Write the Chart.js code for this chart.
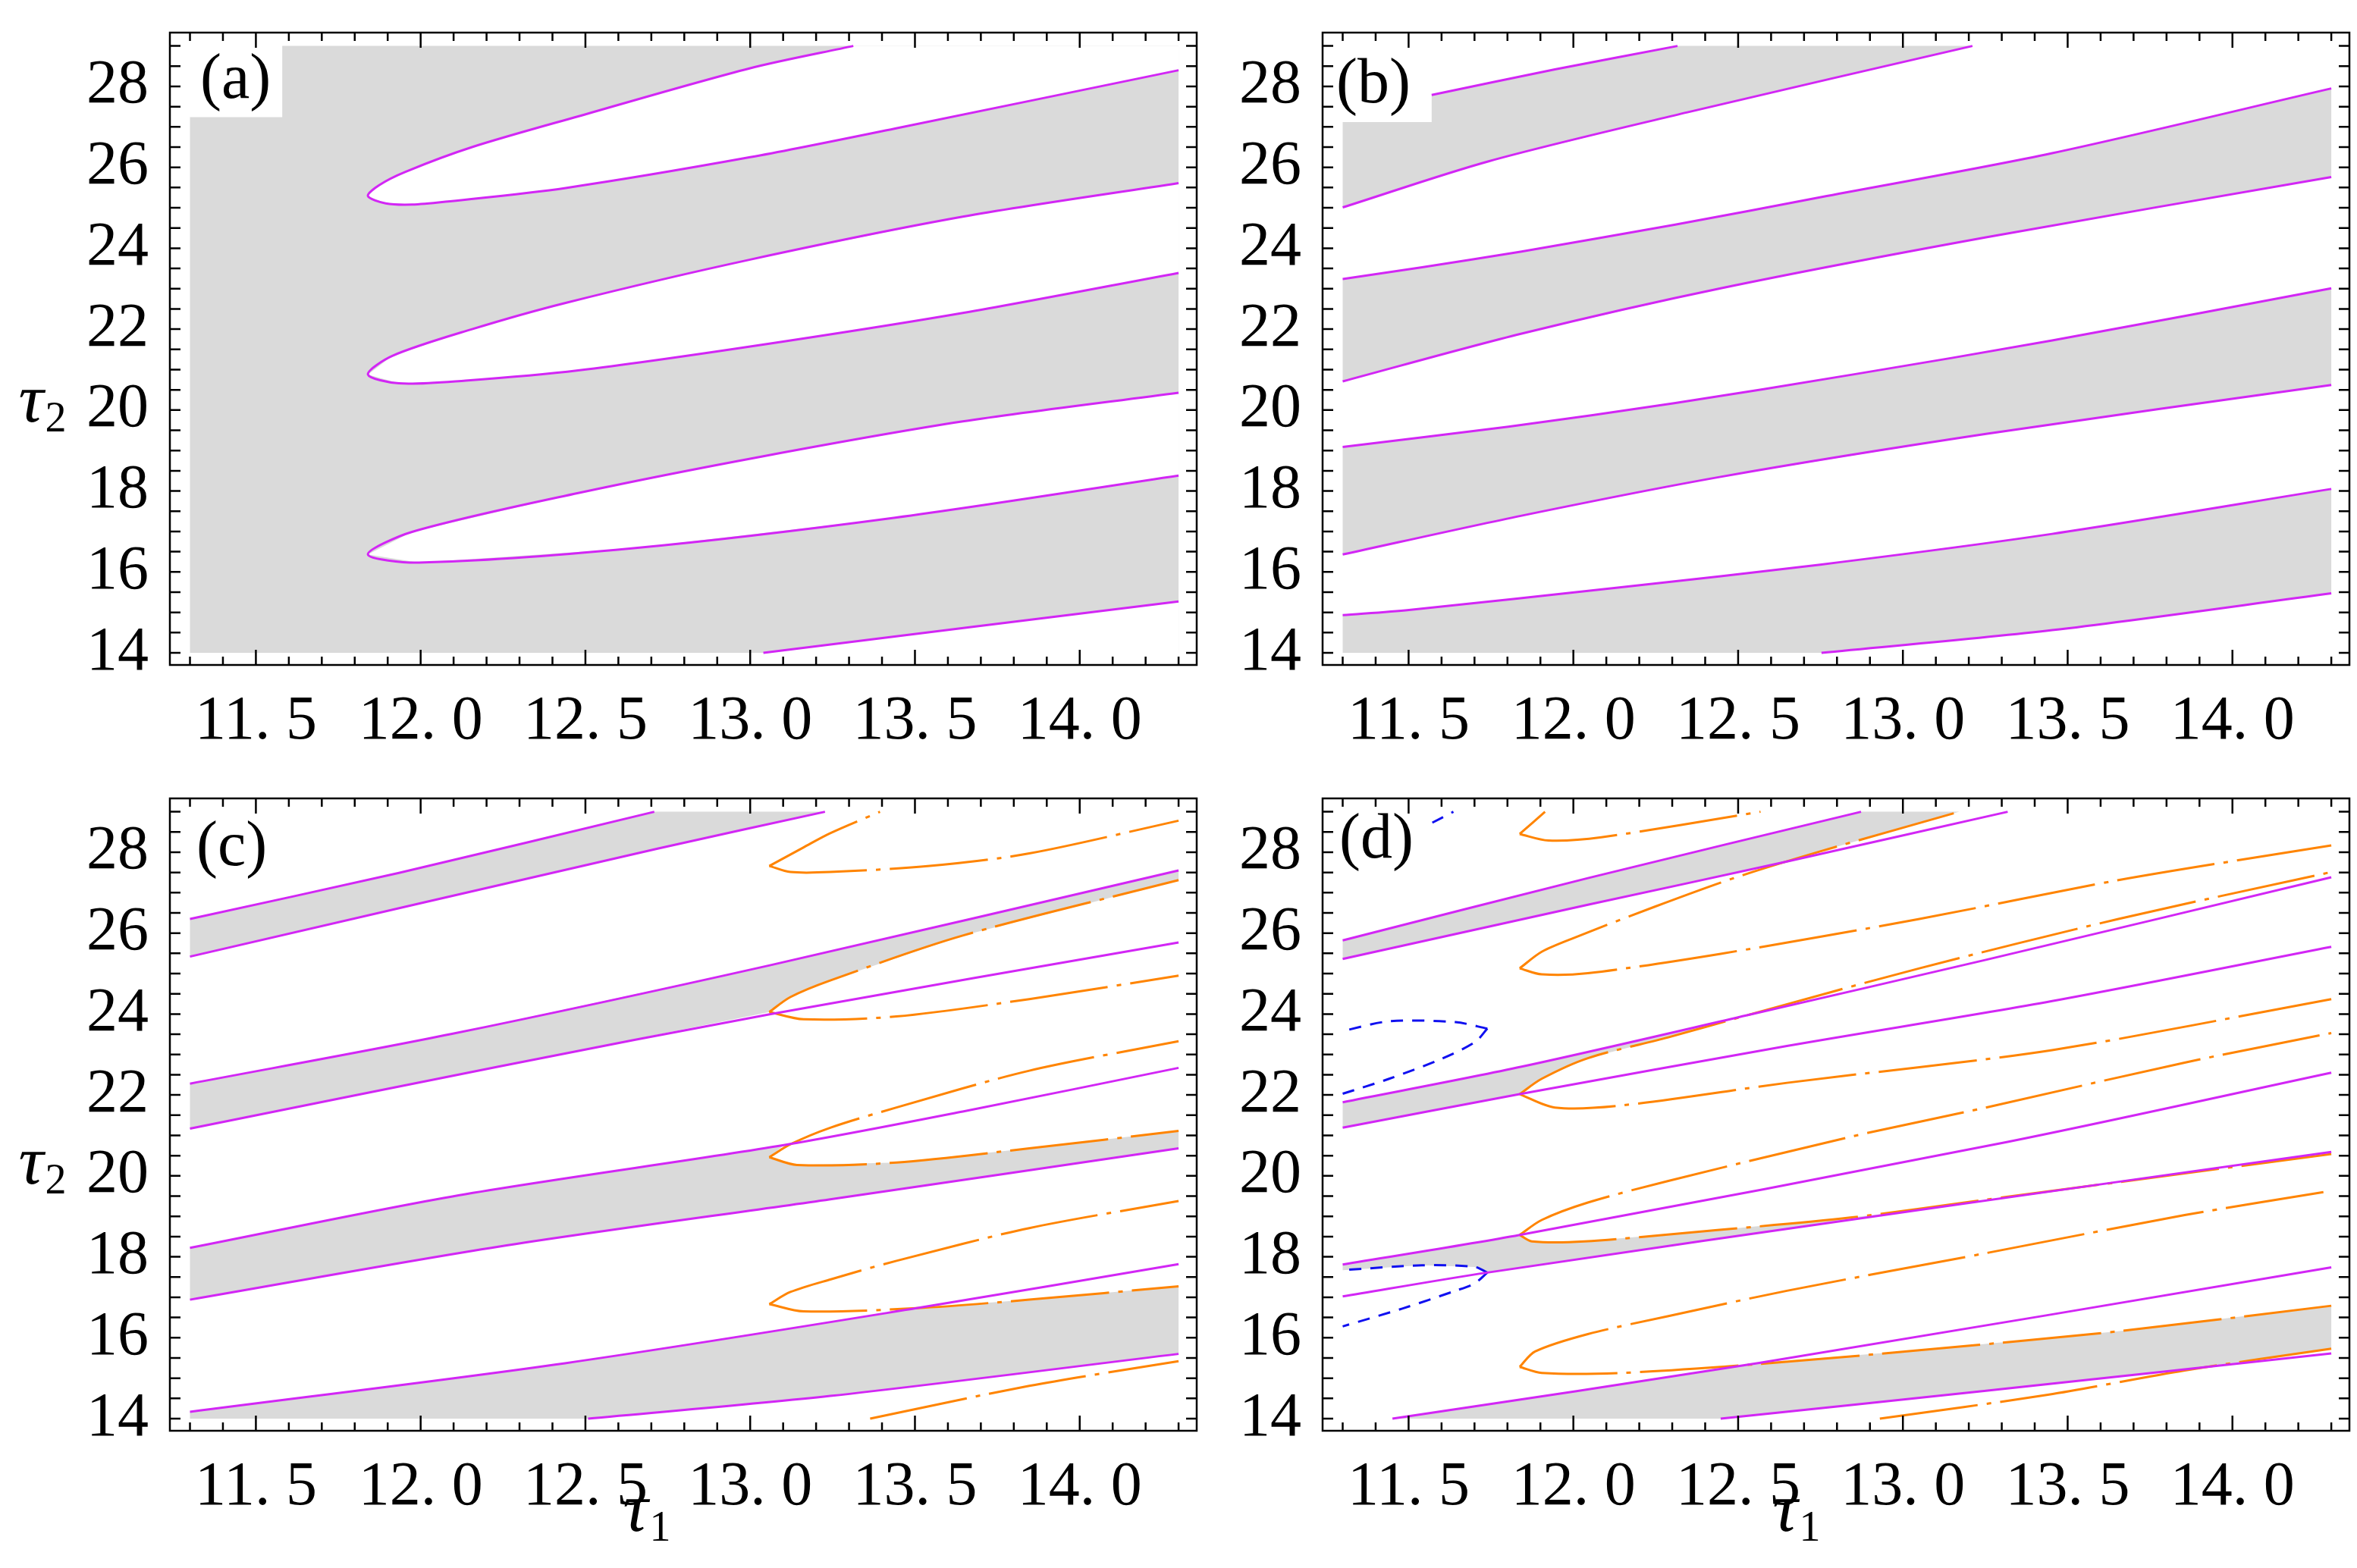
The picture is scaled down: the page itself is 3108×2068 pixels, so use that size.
<!DOCTYPE html>
<html>
<head>
<meta charset="utf-8">
<script src="https://cdn.jsdelivr.net/npm/chart.js@4/dist/chart.umd.min.js"></script>
<style>
  body { margin: 0; background: #fff; }
  #wrap { position: relative; width: 3108px; height: 2068px; }
  canvas { position: absolute; }
</style>
</head>
<body>
<div id="wrap">
  <canvas id="ca"></canvas>
  <canvas id="cb"></canvas>
  <canvas id="cc"></canvas>
  <canvas id="cd"></canvas>
</div>
<script>
// axis ticks (labels)
const xTickLabels = [11.5, 12.0, 12.5, 13.0, 13.5, 14.0]
const yTickLabels = [14, 16, 18, 20, 22, 24, 26, 28]

// ---- panel (a) ----
const aT1Vertex = [11.84, 25.29]
const aT1Upper = [[11.874,25.56],[11.954,25.89],[12.156,26.50],[12.478,27.26],[13.0,28.45],[13.313,29]]
const aT1Lower = [[11.894,25.11],[11.974,25.08],[12.075,25.15],[12.44,25.49],[13.0,26.25],[13.44,26.96],[14.3,28.40]]
const aT2Vertex = [11.84, 20.88]
const aT2Upper = [[11.914,21.34],[12.156,22.0],[12.44,22.65],[13.0,23.72],[13.645,24.78],[14.3,25.61]]
const aT2Lower = [[11.934,20.66],[12.136,20.73],[12.478,20.98],[13.0,21.57],[13.645,22.40],[14.3,23.39]]
const aT3Vertex = [11.84, 16.43]
const aT3Upper = [[11.974,16.99],[12.478,17.95],[13.04,18.86],[13.645,19.72],[14.3,20.43]]
const aT3Lower = [[11.995,16.23],[12.64,16.58],[13.44,17.34],[14.3,18.38]]
const aBottom = [[13.04,14.0],[14.3,15.27]]

// ---- panel (b) ----
const bL1 = [[11.57,27.79],[11.944,28.42],[12.316,29]]
const bL2 = [[11.3,25.01],[11.743,26.15],[12.346,27.36],[13.211,29]]
const bL3 = [[11.3,23.24],[11.541,23.53],[11.843,23.92],[12.306,24.58],[12.769,25.29],[13.453,26.35],[14.3,27.95]]
const bL4 = [[11.3,20.71],[11.843,21.89],[12.447,23.01],[13.252,24.27],[14.3,25.76]]
const bL5 = [[11.3,19.09],[11.803,19.59],[12.306,20.17],[12.849,20.88],[13.453,21.72],[14.3,23.01]]
const bL6 = [[11.3,16.43],[11.843,17.39],[12.447,18.35],[13.252,19.41],[14.3,20.62]]
const bL7 = [[11.3,14.93],[11.501,15.06],[12.145,15.62],[12.749,16.18],[13.453,16.94],[14.3,18.05]]
const bL8 = [[12.753,14.0],[13.453,14.56],[14.3,15.47]]

// ---- panel (c) ----
const cL1 = [[11.3,26.35],[11.934,27.49],[12.709,29]]
const cL2 = [[11.3,25.42],[12.719,28.09],[13.227,29]]
const cL3 = [[11.3,22.28],[12.095,23.51],[13.062,25.21],[14.3,27.55]]
const cL4 = [[11.3,21.17],[12.236,22.70],[13.062,24.0],[14.3,25.77]]
const cL5 = [[11.3,18.22],[12.115,19.52],[13.102,20.76],[13.645,21.59],[14.3,22.67]]
const cL6 = [[11.3,16.94],[12.236,18.25],[13.243,19.42],[14.3,20.68]]
const cL7 = [[11.3,14.17],[12.438,15.37],[13.505,16.73],[14.3,17.82]]
const cL8 = [[12.508,14.0],[13.243,14.56],[14.3,15.6]]
const cO1Vertex = [13.058,27.66]
const cO1Upper = [[13.162,28.12],[13.243,28.47],[13.394,29]]
const cO1Lower = [[13.122,27.51],[13.243,27.51],[13.545,27.66],[13.847,27.97],[14.3,28.78]]
const cO2Vertex = [13.058,24.05]
const cO2Upper = [[13.122,24.42],[13.243,24.83],[13.645,25.94],[14.3,27.31]]
const cO2Lower = [[13.162,23.87],[13.444,23.94],[13.847,24.37],[14.3,24.95]]
const cO3Vertex = [13.058,20.46]
const cO3Upper = [[13.122,20.78],[13.243,21.19],[13.444,21.69],[13.847,22.6],[14.3,23.33]]
const cO3Lower = [[13.142,20.27],[13.444,20.33],[13.847,20.68],[14.3,21.11]]
const cO4Vertex = [13.058,16.83]
const cO4Upper = [[13.122,17.13],[13.243,17.44],[13.444,17.9],[13.847,18.71],[14.3,19.38]]
const cO4Lower = [[13.162,16.65],[13.505,16.73],[13.847,16.94],[14.3,17.27]]
const cO5 = [[13.364,14.0],[13.847,14.81],[14.3,15.42]]

// ---- panel (d) ----
const dL1 = [[11.3,25.82],[12.044,27.36],[12.873,29]]
const dL2 = [[11.3,25.36],[12.044,26.70],[12.648,27.77],[13.318,29]]
const dL3 = [[11.3,21.82],[11.843,22.70],[12.527,23.97],[13.252,25.34],[14.3,27.38]]
const dL4 = [[11.3,21.19],[11.837,22.02],[12.648,23.21],[13.453,24.32],[14.3,25.66]]
const dL5 = [[11.3,17.81],[11.837,18.54],[13.318,20.84],[14.3,22.55]]
const dL6 = [[11.3,17.02],[11.739,17.61],[13.05,19.16],[14.3,20.59]]
const dL7 = [[11.451,14.0],[12.568,15.38],[14.3,17.74]]
const dL8 = [[12.447,14.0],[13.252,14.69],[14.3,15.61]]
const dO1Vertex = [11.837,28.45]
const dO1Upper = [[11.914,29]]
const dO1Lower = [[11.924,28.29],[12.085,28.37],[12.568,29]]
const dO2Vertex = [11.837,25.13]
const dO2Upper = [[11.904,25.54],[12.004,25.89],[12.246,26.65],[12.487,27.36],[12.749,28.02],[13.171,29]]
const dO2Lower = [[11.904,24.98],[12.044,25.01],[12.447,25.49],[13.05,26.35],[13.654,27.31],[14.3,28.17]]
const dO3Vertex = [11.837,22.02]
const dO3Upper = [[11.904,22.40],[12.044,22.91],[12.286,23.42],[12.527,23.97],[13.05,25.13],[13.654,26.35],[14.3,27.51]]
const dO3Lower = [[11.944,21.69],[12.145,21.74],[12.648,22.30],[13.453,23.11],[14.3,24.37]]
const dO4Vertex = [11.837,18.54]
const dO4Upper = [[11.904,18.91],[12.044,19.34],[12.286,19.87],[12.849,20.98],[13.252,21.69],[13.855,22.8],[14.3,23.53]]
const dO4Lower = [[11.874,18.38],[12.034,18.38],[12.437,18.66],[12.84,18.97],[13.25,19.41],[13.65,19.84],[14.3,20.54]]
const dO5Vertex = [11.837,15.28]
const dO5Upper = [[11.884,15.66],[12.044,16.09],[12.286,16.53],[12.648,17.16],[13.252,18.09],[13.855,19.03],[14.3,19.63]]
const dO5Lower = [[11.904,15.13],[12.145,15.13],[12.548,15.34],[13.05,15.69],[13.654,16.16],[14.3,16.79]]
const dO6 = [[12.93,14.0],[13.44,14.59],[13.855,15.19],[14.3,15.73]]
const dB1Vertex = [11.739,23.64]
const dB1Upper = [[11.642,23.8],[11.441,23.82],[11.3,23.58]]
const dB1Lower = [[11.702,23.31],[11.602,22.9],[11.441,22.4],[11.3,22.03]]
const dB2Vertex = [11.739,17.61]
const dB2Upper = [[11.70,17.75],[11.541,17.79],[11.3,17.67]]
const dB2Lower = [[11.70,17.34],[11.642,17.16],[11.481,16.72],[11.3,16.28]]
const dB3 = [[11.572,28.73],[11.636,29]]

const MAGENTA = '#d226f5'
const ORANGE = '#ff8400'
const BLUE = '#1010f0'
const GRAY = '#dadada'
const ORANGE_DASH = [130, 12, 6, 12]
const BLUE_DASH = [16, 12]

const rev = a => a.slice().reverse()
const pts = a => a.map(p => ({x: p[0], y: p[1]}))

function line(a, color, dash) {
    return { data: pts(a), showLine: true, borderColor: color, borderWidth: 3,
             pointRadius: 0, tension: 0.3, borderDash: dash || [], fill: false }
}
function poly(a, color) {
    return { data: pts(a), showLine: true, borderWidth: 0, borderColor: 'rgba(0,0,0,0)',
             pointRadius: 0, tension: 0, fill: 'shape', backgroundColor: color }
}
function tongue(v, up, lo) { return rev(up).concat([v], lo) }
// orange / blue tongues: each branch drawn outward from the vertex
function branches(v, up, lo, color, dash) {
    return [line([v].concat(up), color, dash), line([v].concat(lo), color, dash)]
}

// ---- datasets: lines first (drawn on top), fills last ----
const dsA = [
    line(tongue(aT1Vertex, aT1Upper, aT1Lower), MAGENTA),
    line(tongue(aT2Vertex, aT2Upper, aT2Lower), MAGENTA),
    line(tongue(aT3Vertex, aT3Upper, aT3Lower), MAGENTA),
    line(aBottom, MAGENTA),
    poly(tongue(aT1Vertex, aT1Upper, aT1Lower).concat([[14.3,29]]), '#fff'),
    poly(tongue(aT2Vertex, aT2Upper, aT2Lower), '#fff'),
    poly(tongue(aT3Vertex, aT3Upper, aT3Lower), '#fff'),
    poly(aBottom.concat([[14.3,14]]), '#fff'),
    poly([[11.3,14],[14.3,14],[14.3,29],[11.58,29],[11.58,27.24],[11.3,27.24]], GRAY),
]

const dsB = [
    line(bL1, MAGENTA), line(bL2, MAGENTA), line(bL3, MAGENTA), line(bL4, MAGENTA),
    line(bL5, MAGENTA), line(bL6, MAGENTA), line(bL7, MAGENTA), line(bL8, MAGENTA),
    poly([[11.3,27.12],[11.57,27.12]].concat(bL1, rev(bL2)), GRAY),
    poly(bL3.concat(rev(bL4)), GRAY),
    poly(bL5.concat(rev(bL6)), GRAY),
    poly(bL7.concat(rev(bL8), [[11.3,14]]), GRAY),
]

const dsC = [
    line(cL1, MAGENTA), line(cL2, MAGENTA), line(cL3, MAGENTA), line(cL4, MAGENTA),
    line(cL5, MAGENTA), line(cL6, MAGENTA), line(cL7, MAGENTA), line(cL8, MAGENTA),
    ...branches(cO1Vertex, cO1Upper, cO1Lower, ORANGE, ORANGE_DASH),
    ...branches(cO2Vertex, cO2Upper, cO2Lower, ORANGE, ORANGE_DASH),
    ...branches(cO3Vertex, cO3Upper, cO3Lower, ORANGE, ORANGE_DASH),
    ...branches(cO4Vertex, cO4Upper, cO4Lower, ORANGE, ORANGE_DASH),
    line(cO5, ORANGE, ORANGE_DASH),
    poly(cL1.concat(rev(cL2)), GRAY),
    poly(cL3.concat(rev(cO2Upper), [cO2Vertex], rev(cL4.slice(0, 2))), GRAY),
    poly(cL5.slice(0, 3).concat([cO3Vertex], cO3Lower, rev(cL6)), GRAY),
    poly([[11.3,14]].concat(cL7.slice(0, 3), cO4Lower.slice(2), rev(cL8)), GRAY),
]

const dsD = [
    line(dL1, MAGENTA), line(dL2, MAGENTA), line(dL3, MAGENTA), line(dL4, MAGENTA),
    line(dL5, MAGENTA), line(dL6, MAGENTA), line(dL7, MAGENTA), line(dL8, MAGENTA),
    ...branches(dO1Vertex, dO1Upper, dO1Lower, ORANGE, ORANGE_DASH),
    ...branches(dO2Vertex, dO2Upper, dO2Lower, ORANGE, ORANGE_DASH),
    ...branches(dO3Vertex, dO3Upper, dO3Lower, ORANGE, ORANGE_DASH),
    ...branches(dO4Vertex, dO4Upper, dO4Lower, ORANGE, ORANGE_DASH),
    ...branches(dO5Vertex, dO5Upper, dO5Lower, ORANGE, ORANGE_DASH),
    line(dO6, ORANGE, ORANGE_DASH),
    ...branches(dB1Vertex, dB1Upper, dB1Lower, BLUE, BLUE_DASH),
    ...branches(dB2Vertex, dB2Upper, dB2Lower, BLUE, BLUE_DASH),
    line(dB3, BLUE, BLUE_DASH),
    poly(dL1.concat([[13.171,29],[12.749,28.02]], rev(dL2.slice(0, 3))), GRAY),
    poly(dL3.slice(0, 3).concat(rev(dO3Upper.slice(0, 3)), [dO3Vertex, [11.3,21.19]]), GRAY),
    poly(dL5.slice(0, 2).concat(dO4Lower.slice(0, 4), [[13.05,19.16], dB2Vertex], dB2Upper), GRAY),
    poly([dL7[0], dL7[1]].concat(dO5Lower.slice(3), [[14.3,15.73],[13.92,15.27]], rev(dL8)), GRAY),
]

// inward ticks, frame and text drawn on the chart
const decor = {
    id: 'decor',
    afterDraw(chart, args, opts) {
        const ctx = chart.ctx, a = chart.chartArea
        const xs = chart.scales.x, ys = chart.scales.y
        ctx.save()
        ctx.strokeStyle = '#000'
        ctx.lineWidth = 2.5
        ctx.strokeRect(a.left, a.top, a.right - a.left, a.bottom - a.top)
        ctx.beginPath()
        for (let i = 113; i <= 143; i++) {
            const px = xs.getPixelForValue(i / 10)
            const len = (i % 5 === 0) ? 20 : 11
            ctx.moveTo(px, a.bottom); ctx.lineTo(px, a.bottom - len)
            ctx.moveTo(px, a.top); ctx.lineTo(px, a.top + len)
        }
        for (let i = 28; i <= 58; i++) {
            const py = ys.getPixelForValue(i / 2)
            ctx.moveTo(a.left, py); ctx.lineTo(a.left + 14, py)
            ctx.moveTo(a.right, py); ctx.lineTo(a.right - 14, py)
        }
        ctx.stroke()
        ctx.fillStyle = '#000'
        ctx.textBaseline = 'middle'
        ctx.textAlign = 'left'
        ctx.font = '84px "Liberation Serif"'
        ctx.fillText(opts.label, a.left + opts.labelDx, a.top + opts.labelDy)
        const sym = (txt, sub, cx, cy) => {
            ctx.font = 'italic 92px "Liberation Serif"'
            const w1 = ctx.measureText(txt).width
            ctx.font = '56px "Liberation Serif"'
            const w2 = ctx.measureText(sub).width
            const x0 = cx - (w1 + w2) / 2
            ctx.font = 'italic 92px "Liberation Serif"'
            ctx.fillText(txt, x0, cy)
            ctx.font = '56px "Liberation Serif"'
            ctx.fillText(sub, x0 + w1 + 2, cy + 22)
        }
        if (opts.yTitle) sym('\u03c4', '2', opts.yTitle[0], opts.yTitle[1])
        if (opts.xTitle) sym('\u03c4', '1', opts.xTitle[0], opts.xTitle[1])
        ctx.restore()
    }
}

function makeChart(id, canvasRect, area, datasets, deco) {
    const el = document.getElementById(id)
    const [cl, ct, cw, ch] = canvasRect
    el.style.left = cl + 'px'; el.style.top = ct + 'px'
    el.width = cw; el.height = ch
    el.style.width = cw + 'px'; el.style.height = ch + 'px'
    const [al, at, ar, ab] = area
    const fit = { yW: al - cl, xH: ct + ch - ab }
    const pad = { left: 0, top: at - ct, right: cl + cw - ar, bottom: 0 }
    const chart = new Chart(el, {
        type: 'scatter',
        data: { datasets: datasets },
        plugins: [decor],
        options: {
            responsive: false,
            animation: false,
            devicePixelRatio: 1,
            layout: { padding: pad },
            plugins: { legend: { display: false }, tooltip: { enabled: false }, decor: deco },
            scales: {
                x: {
                    type: 'linear', min: 11.239, max: 14.355,
                    grid: { display: false, drawTicks: false },
                    border: { display: false },
                    afterBuildTicks: s => { s.ticks = xTickLabels.map(v => ({ value: v })) },
                    afterFit: s => { s.height = fit.xH; s.paddingLeft = 0; s.paddingRight = 0 },
                    ticks: {
                        padding: 26, color: '#000', maxRotation: 0, autoSkip: false,
                        font: { family: 'Liberation Serif', size: 82 },
                        callback: v => v.toFixed(1).replace('.', '. ')
                    }
                },
                y: {
                    type: 'linear', min: 13.7, max: 29.33,
                    grid: { display: false, drawTicks: false },
                    border: { display: false },
                    afterBuildTicks: s => { s.ticks = yTickLabels.map(v => ({ value: v })) },
                    afterFit: s => { s.width = fit.yW; s.paddingTop = 0; s.paddingBottom = 0 },
                    ticks: {
                        padding: 28, color: '#000', autoSkip: false,
                        font: { family: 'Liberation Serif', size: 82 }
                    }
                }
            }
        }
    })
    // nudge the plot box onto the intended position
    for (let k = 0; k < 3; k++) {
        const c = chart.chartArea
        pad.top += (at - ct) - c.top
        fit.yW += (al - cl) - c.left
        pad.right += c.right - (ar - cl)
        fit.xH += c.bottom - (ab - ct)
        chart.options.layout.padding = Object.assign({}, pad)
        chart.update()
    }
    return chart
}

makeChart('ca', [0, 0, 1600, 1030], [224, 43, 1578, 877], dsA,
    { label: '(a)', labelDx: 40, labelDy: 64, yTitle: [55, 532] })
makeChart('cb', [1600, 0, 1508, 1030], [1744, 43, 3098, 877], dsB,
    { label: '(b)', labelDx: 18, labelDy: 70 })
makeChart('cc', [0, 1030, 1600, 1038], [224, 1053, 1578, 1887], dsC,
    { label: '(c)', labelDx: 35, labelDy: 66, yTitle: [55, 507], xTitle: [852, 965] })
makeChart('cd', [1600, 1030, 1508, 1038], [1744, 1053, 3098, 1887], dsD,
    { label: '(d)', labelDx: 22, labelDy: 56, xTitle: [768, 965] })
</script>
</body>
</html>
